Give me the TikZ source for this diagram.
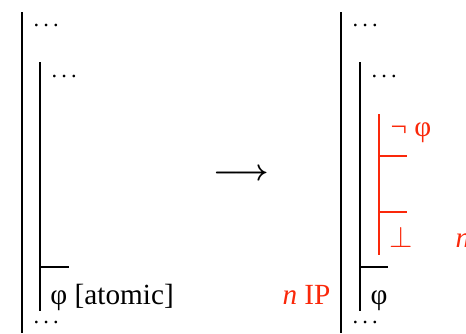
\documentclass[tikz,border=0pt]{standalone}
\usepackage{fontspec}
\setmainfont{Liberation Serif}
\usepackage{xcolor}
\usetikzlibrary{positioning, calc}
\definecolor{ipred}{RGB}{250,40,10}
\newcommand{\dotrow}{{\fontsize{9}{11}\selectfont.\kern1.7pt.\kern1.7pt.}}

\begin{document}
\begin{tikzpicture}[
    x=0.4pt, y=-0.4pt,
    bar/.style={line width=0.8pt},
    hyp/.style={line width=0.8pt, ipred},
    lbl/.style={inner sep=0pt, anchor=base west, font=\fontsize{11.7}{14}\selectfont},
    rule/.style={lbl, text=ipred},
    turn/.style={inner sep=0pt, anchor=base, font=\fontsize{11.7}{14}\selectfont\mathversion{bold}}
]
\useasboundingbox (0,0) rectangle (466,333);

% left proof
\draw[bar] (22,12) -- (22,333);
\draw[bar] (40,62) -- (40,311);
\draw[bar] (40,267) -- (69,267);
\node[lbl] (topdotsL) at (33,26.5) {\dotrow};
\node[lbl] (subdotsL) at (51,77.5) {\dotrow};
\node[lbl] (atomL) at (50,304) {φ [atomic]};
\node[lbl] (botdotsL) at (33,323.5) {\dotrow};

\node[turn] (step) at (241,180) {$\longrightarrow$};

% right proof
\draw[bar] (341,12) -- (341,333);
\draw[bar] (360,62) -- (360,311);
\draw[bar] (360,267) -- (388,267);
\node[lbl] (topdotsR) at (352,26.5) {\dotrow};
\node[lbl] (subdotsR) at (371,77.5) {\dotrow};
\node[lbl] (atomR) at (370,304) {φ};
\node[lbl] (botdotsR) at (352,323.5) {\dotrow};
\node[rule, anchor=base east] (ip) at (331,304) {\textit{n} IP};

% added subproof
\draw[hyp] (379,114) -- (379,255);
\draw[hyp] (379,156) -- (407,156);
\draw[hyp] (379,212) -- (407,212);
\node[rule] (negphi) at (390,136) {¬ φ};
\node[rule] (falsum) at (389,247) {$\bot$};
\node[rule] (nright) at (455,247) {\textit{n}};
\end{tikzpicture}
\end{document}
